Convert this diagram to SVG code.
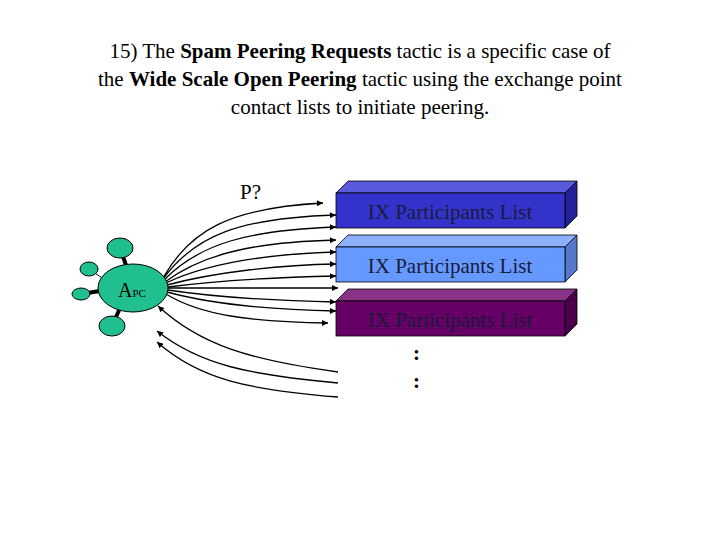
<svg xmlns="http://www.w3.org/2000/svg" width="720" height="540" viewBox="0 0 720 540">
<defs>
<style>
text{font-family:"Liberation Serif","Times New Roman",serif;fill:#000}
.t{font-size:21px;text-anchor:middle}
.c path{fill:none;stroke:#000;stroke-width:1.3}
.sat{fill:#1fbf8f;stroke:#000;stroke-width:1}
.lbl{font-size:21px;fill:#1a1a3a}
</style>
<marker id="a" viewBox="0 0 10 10" refX="10" refY="5" markerWidth="7" markerHeight="6" orient="auto" markerUnits="userSpaceOnUse"><path d="M0,0L10,5L0,10z" fill="#000"/></marker>
</defs>
<rect width="720" height="540" fill="#fff"/>
<text class="t" x="360" y="58">15) The <tspan font-weight="bold">Spam Peering Requests</tspan> tactic is a specific case of</text>
<text class="t" x="360" y="86">the <tspan font-weight="bold">Wide Scale Open Peering</tspan> tactic using the exchange point</text>
<text class="t" x="360" y="114">contact lists to initiate peering.</text>
<text x="240" y="199" font-size="21">P?</text>
<g class="c" marker-end="url(#a)">
<path d="M163,278 C190,230 230,208 323,203" marker-end="url(#a)"/>
<path d="M163,279 C195,235 240,218 336,215" marker-end="url(#a)"/>
<path d="M164,280 C200,243 250,230 336,227" marker-end="url(#a)"/>
<path d="M165,282 C205,252 260,242 336,240" marker-end="url(#a)"/>
<path d="M166,283 C210,262 270,254 336,252" marker-end="url(#a)"/>
<path d="M167,285 C215,272 280,265 336,264" marker-end="url(#a)"/>
<path d="M168,287 C220,280 290,277 336,276" marker-end="url(#a)"/>
<path d="M168,288 L338,288" marker-end="url(#a)"/>
<path d="M168,290 C220,298 290,301 336,302" marker-end="url(#a)"/>
<path d="M167,292 C215,305 280,310 336,311" marker-end="url(#a)"/>
<path d="M166,294 C200,315 250,322 328,323" marker-end="url(#a)"/>
<path d="M338,372 C250,360 200,345 158,306" marker-end="url(#a)"/>
<path d="M338,383 C250,375 200,365 157,331" marker-end="url(#a)"/>
<path d="M338,397 C250,390 200,380 157,342" marker-end="url(#a)"/>
</g>
<g id="apc">
<line x1="120" y1="248" x2="127" y2="268" stroke="#000" stroke-width="4"/>
<line x1="89" y1="269" x2="105" y2="280" stroke="#000" stroke-width="1"/>
<line x1="81" y1="294" x2="100" y2="291" stroke="#000" stroke-width="4"/>
<line x1="112" y1="326" x2="120" y2="308" stroke="#000" stroke-width="4"/>
<ellipse class="sat" cx="120" cy="248" rx="13" ry="10"/>
<ellipse class="sat" cx="89" cy="269" rx="9" ry="7"/>
<ellipse class="sat" cx="81" cy="294" rx="9" ry="6"/>
<ellipse class="sat" cx="112" cy="326" rx="13" ry="10"/>
<ellipse class="sat" cx="133" cy="288" rx="35" ry="24" stroke="none"/>
<text x="118" y="297" font-size="20">A<tspan font-size="11">PC</tspan></text>
</g>
<g id="box1">
<polygon points="336,193 348,181 577,181 565,193" fill="#5a5add" stroke="#000" stroke-width="0.8"/>
<polygon points="565,193 577,181 577,216 565,228" fill="#22229a" stroke="#000" stroke-width="0.8"/>
<rect x="336" y="193" width="229" height="35" fill="#3333cc" stroke="#000" stroke-width="0.8"/>
<text class="lbl" x="450" y="219" text-anchor="middle">IX Participants List</text>
</g>
<g id="box2">
<polygon points="336,247 348,235 577,235 565,247" fill="#8db0ff" stroke="#000" stroke-width="0.8"/>
<polygon points="565,247 577,235 577,270 565,282" fill="#5577cc" stroke="#000" stroke-width="0.8"/>
<rect x="336" y="247" width="229" height="35" fill="#6699ff" stroke="#000" stroke-width="0.8"/>
<text class="lbl" x="450" y="273" text-anchor="middle">IX Participants List</text>
</g>
<g id="box3">
<polygon points="336,301 348,289 577,289 565,301" fill="#883388" stroke="#000" stroke-width="0.8"/>
<polygon points="565,301 577,289 577,324 565,336" fill="#4a004a" stroke="#000" stroke-width="0.8"/>
<rect x="336" y="301" width="229" height="35" fill="#660066" stroke="#000" stroke-width="0.8"/>
<text class="lbl" x="450" y="327" text-anchor="middle">IX Participants List</text>
</g>
<text x="413" y="360" font-size="21" font-weight="bold">:</text>
<text x="413" y="388" font-size="21" font-weight="bold">:</text>
</svg>
